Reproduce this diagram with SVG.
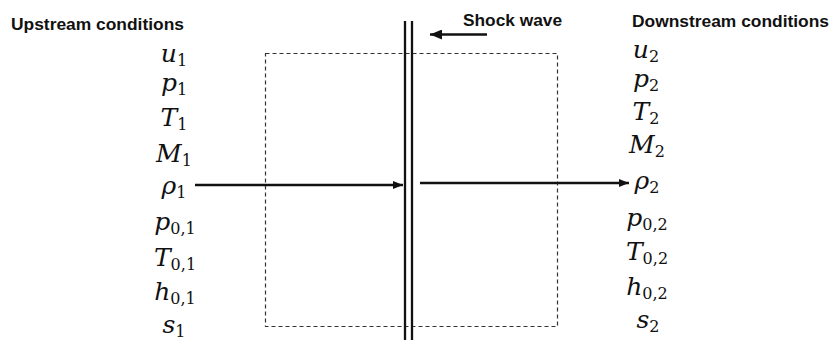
<svg xmlns="http://www.w3.org/2000/svg" width="831" height="340" viewBox="0 0 831 340">
<style>
.hd{font-family:"Liberation Sans",Arial,sans-serif;font-weight:bold;font-size:17px;fill:#111}
.v{font-family:"DejaVu Serif",serif;font-style:italic;font-size:25px;fill:#111}
.s{font-family:"DejaVu Serif",serif;font-style:normal;font-size:16px}
.ln{stroke:#111;stroke-width:2.3;fill:none}
.cv{stroke:#333;stroke-width:1.2;fill:none;stroke-dasharray:4 3}
</style>
<defs>
<marker id="ah" viewBox="0 0 10 8" refX="10" refY="4" markerWidth="10" markerHeight="8" markerUnits="userSpaceOnUse" orient="auto">
<path d="M0,0 L10,4 L0,8 Z" fill="#111"/>
</marker>
<marker id="ahb" viewBox="0 0 12 10" refX="12" refY="5" markerWidth="12" markerHeight="10" markerUnits="userSpaceOnUse" orient="auto">
<path d="M0,0 L12,5 L0,10 Z" fill="#111"/>
</marker>
</defs>
<rect width="831" height="340" fill="#fff"/>
<g id="control-volume">
<rect class="cv" x="265.5" y="53.5" width="292" height="273"/>
</g>
<g id="shock-wave">
<line class="ln" x1="405" y1="21" x2="405" y2="340"/>
<line class="ln" x1="412" y1="21" x2="412" y2="340"/>
<text class="hd" x="463" y="26" textLength="99" lengthAdjust="spacingAndGlyphs">Shock wave</text>
</g>
<g id="upstream">
<text class="hd" x="11" y="30" textLength="173" lengthAdjust="spacingAndGlyphs">Upstream conditions</text>
<text class="v" x="174" y="62" text-anchor="middle">u<tspan class="s" dy="4">1</tspan></text>
<text class="v" x="174" y="91" text-anchor="middle">p<tspan class="s" dy="4">1</tspan></text>
<text class="v" x="174" y="126" text-anchor="middle">T<tspan class="s" dy="4">1</tspan></text>
<text class="v" x="174" y="162" text-anchor="middle">M<tspan class="s" dy="4">1</tspan></text>
<text class="v" x="174" y="194" text-anchor="middle">ρ<tspan class="s" dy="4">1</tspan></text>
<text class="v" x="175" y="230" text-anchor="middle">p<tspan class="s" dy="4">0,1</tspan></text>
<text class="v" x="175" y="266" text-anchor="middle">T<tspan class="s" dy="4">0,1</tspan></text>
<text class="v" x="175" y="300" text-anchor="middle">h<tspan class="s" dy="4">0,1</tspan></text>
<text class="v" x="174" y="333" text-anchor="middle">s<tspan class="s" dy="4">1</tspan></text>
</g>
<g id="downstream">
<text class="hd" x="632" y="27" textLength="197" lengthAdjust="spacingAndGlyphs">Downstream conditions</text>
<text class="v" x="646" y="58" text-anchor="middle">u<tspan class="s" dy="4">2</tspan></text>
<text class="v" x="646" y="87" text-anchor="middle">p<tspan class="s" dy="4">2</tspan></text>
<text class="v" x="646" y="120" text-anchor="middle">T<tspan class="s" dy="4">2</tspan></text>
<text class="v" x="647" y="153" text-anchor="middle">M<tspan class="s" dy="4">2</tspan></text>
<text class="v" x="647" y="189" text-anchor="middle">ρ<tspan class="s" dy="4">2</tspan></text>
<text class="v" x="647" y="226" text-anchor="middle">p<tspan class="s" dy="4">0,2</tspan></text>
<text class="v" x="647" y="260" text-anchor="middle">T<tspan class="s" dy="4">0,2</tspan></text>
<text class="v" x="647" y="295" text-anchor="middle">h<tspan class="s" dy="4">0,2</tspan></text>
<text class="v" x="648" y="328" text-anchor="middle">s<tspan class="s" dy="4">2</tspan></text>
</g>
<g id="connectors">
<line class="ln" x1="195" y1="185" x2="403" y2="185" marker-end="url(#ah)"/>
<line class="ln" x1="420" y1="183" x2="629" y2="183" marker-end="url(#ah)"/>
<line class="ln" x1="487" y1="34.5" x2="430" y2="34.5" stroke-width="3" marker-end="url(#ahb)"/>
</g>
</svg>
